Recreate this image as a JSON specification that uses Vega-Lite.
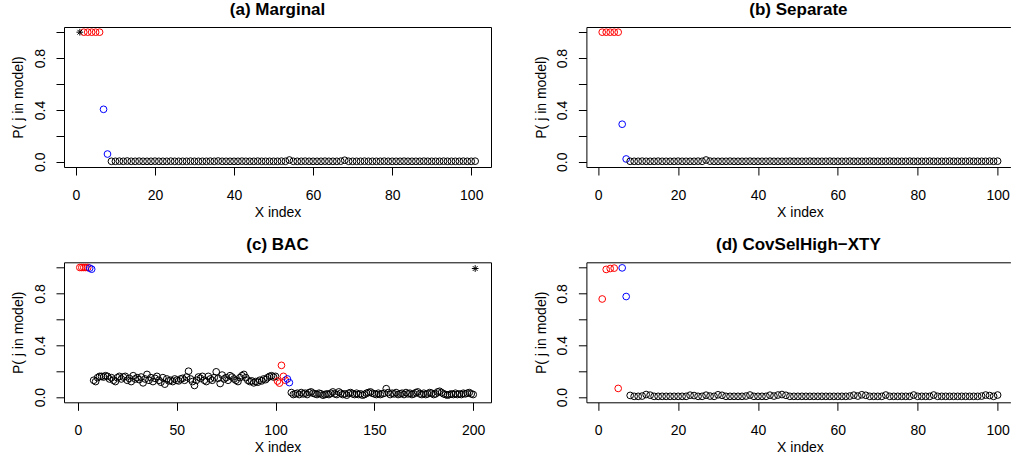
{
"$schema": "https://vega.github.io/schema/vega-lite/v6.json",
"background": "white",
"padding": {"left": 11, "top": 0, "right": 0, "bottom": 0},
"bounds": "flush",
"columns": 2,
"spacing": {"row": 95.3, "column": 95.4},
"config": {
  "font": "Liberation Sans",
  "view": {"stroke": "black", "strokeWidth": 1},
  "axis": {"grid": false, "domain": false, "domainColor": "black", "domainWidth": 1, "tickColor": "black", "tickSize": 8, "tickWidth": 1, "labelColor": "black", "labelFontSize": 14, "labelFont": "Liberation Sans", "titleFont": "Liberation Sans", "titleFontSize": 14, "titleFontWeight": "normal", "titleColor": "black", "labelFlush": false, "labelOverlap": false, "labelBound": false},
  "axisX": {"labelPadding": 24, "labelBaseline": "alphabetic", "labelAlign": "center", "titleBaseline": "alphabetic", "titleAlign": "center", "titleY": 49, "titleX": 213.5},
  "axisY": {"labelPadding": 12, "labelAngle": -90, "labelBaseline": "alphabetic", "labelAlign": "center", "titleAngle": -90, "titleBaseline": "alphabetic", "titleAlign": "center", "titleX": -41.3, "titleY": 70},
  "title": {"fontSize": 17, "fontWeight": "bold", "font": "Liberation Sans", "color": "black", "anchor": "middle", "frame": "group", "baseline": "alphabetic", "offset": 8}
},
"datasets": {"pts": [
{"p":"a","x":1,"y":1,"c":"s"},
{"p":"a","x":2,"y":1,"c":"r"},{"p":"a","x":3,"y":1,"c":"r"},{"p":"a","x":4,"y":1,"c":"r"},{"p":"a","x":5,"y":1,"c":"r"},{"p":"a","x":6,"y":1,"c":"r"},
{"p":"a","x":7,"y":0.405,"c":"b"},{"p":"a","x":8,"y":0.06,"c":"b"},
{"p":"a","x":9,"y":0.004,"c":"k"},{"p":"a","x":10,"y":0.004,"c":"k"},{"p":"a","x":11,"y":0.005,"c":"k"},{"p":"a","x":12,"y":0.004,"c":"k"},{"p":"a","x":13,"y":0.006,"c":"k"},{"p":"a","x":14,"y":0.004,"c":"k"},{"p":"a","x":15,"y":0.004,"c":"k"},{"p":"a","x":16,"y":0.005,"c":"k"},{"p":"a","x":17,"y":0.004,"c":"k"},{"p":"a","x":18,"y":0.004,"c":"k"},{"p":"a","x":19,"y":0.004,"c":"k"},{"p":"a","x":20,"y":0.005,"c":"k"},
{"p":"a","x":21,"y":0.004,"c":"k"},{"p":"a","x":22,"y":0.004,"c":"k"},{"p":"a","x":23,"y":0.004,"c":"k"},{"p":"a","x":24,"y":0.005,"c":"k"},{"p":"a","x":25,"y":0.004,"c":"k"},{"p":"a","x":26,"y":0.004,"c":"k"},{"p":"a","x":27,"y":0.004,"c":"k"},{"p":"a","x":28,"y":0.004,"c":"k"},{"p":"a","x":29,"y":0.005,"c":"k"},{"p":"a","x":30,"y":0.004,"c":"k"},
{"p":"a","x":31,"y":0.004,"c":"k"},{"p":"a","x":32,"y":0.004,"c":"k"},{"p":"a","x":33,"y":0.004,"c":"k"},{"p":"a","x":34,"y":0.005,"c":"k"},{"p":"a","x":35,"y":0.004,"c":"k"},{"p":"a","x":36,"y":0.006,"c":"k"},{"p":"a","x":37,"y":0.004,"c":"k"},{"p":"a","x":38,"y":0.004,"c":"k"},{"p":"a","x":39,"y":0.004,"c":"k"},{"p":"a","x":40,"y":0.004,"c":"k"},
{"p":"a","x":41,"y":0.004,"c":"k"},{"p":"a","x":42,"y":0.005,"c":"k"},{"p":"a","x":43,"y":0.004,"c":"k"},{"p":"a","x":44,"y":0.004,"c":"k"},{"p":"a","x":45,"y":0.004,"c":"k"},{"p":"a","x":46,"y":0.005,"c":"k"},{"p":"a","x":47,"y":0.004,"c":"k"},{"p":"a","x":48,"y":0.004,"c":"k"},{"p":"a","x":49,"y":0.004,"c":"k"},{"p":"a","x":50,"y":0.004,"c":"k"},
{"p":"a","x":51,"y":0.004,"c":"k"},{"p":"a","x":52,"y":0.005,"c":"k"},{"p":"a","x":53,"y":0.004,"c":"k"},{"p":"a","x":54,"y":0.014,"c":"k"},{"p":"a","x":55,"y":0.004,"c":"k"},{"p":"a","x":56,"y":0.004,"c":"k"},{"p":"a","x":57,"y":0.004,"c":"k"},{"p":"a","x":58,"y":0.005,"c":"k"},{"p":"a","x":59,"y":0.004,"c":"k"},{"p":"a","x":60,"y":0.004,"c":"k"},
{"p":"a","x":61,"y":0.004,"c":"k"},{"p":"a","x":62,"y":0.004,"c":"k"},{"p":"a","x":63,"y":0.005,"c":"k"},{"p":"a","x":64,"y":0.004,"c":"k"},{"p":"a","x":65,"y":0.004,"c":"k"},{"p":"a","x":66,"y":0.004,"c":"k"},{"p":"a","x":67,"y":0.005,"c":"k"},{"p":"a","x":68,"y":0.012,"c":"k"},{"p":"a","x":69,"y":0.004,"c":"k"},{"p":"a","x":70,"y":0.004,"c":"k"},
{"p":"a","x":71,"y":0.004,"c":"k"},{"p":"a","x":72,"y":0.004,"c":"k"},{"p":"a","x":73,"y":0.005,"c":"k"},{"p":"a","x":74,"y":0.004,"c":"k"},{"p":"a","x":75,"y":0.004,"c":"k"},{"p":"a","x":76,"y":0.004,"c":"k"},{"p":"a","x":77,"y":0.004,"c":"k"},{"p":"a","x":78,"y":0.005,"c":"k"},{"p":"a","x":79,"y":0.004,"c":"k"},{"p":"a","x":80,"y":0.004,"c":"k"},
{"p":"a","x":81,"y":0.004,"c":"k"},{"p":"a","x":82,"y":0.004,"c":"k"},{"p":"a","x":83,"y":0.005,"c":"k"},{"p":"a","x":84,"y":0.004,"c":"k"},{"p":"a","x":85,"y":0.004,"c":"k"},{"p":"a","x":86,"y":0.004,"c":"k"},{"p":"a","x":87,"y":0.004,"c":"k"},{"p":"a","x":88,"y":0.005,"c":"k"},{"p":"a","x":89,"y":0.004,"c":"k"},{"p":"a","x":90,"y":0.004,"c":"k"},
{"p":"a","x":91,"y":0.004,"c":"k"},{"p":"a","x":92,"y":0.004,"c":"k"},{"p":"a","x":93,"y":0.005,"c":"k"},{"p":"a","x":94,"y":0.004,"c":"k"},{"p":"a","x":95,"y":0.004,"c":"k"},{"p":"a","x":96,"y":0.004,"c":"k"},{"p":"a","x":97,"y":0.004,"c":"k"},{"p":"a","x":98,"y":0.005,"c":"k"},{"p":"a","x":99,"y":0.004,"c":"k"},{"p":"a","x":100,"y":0.004,"c":"k"},{"p":"a","x":101,"y":0.005,"c":"k"},

{"p":"b","x":1,"y":1,"c":"r"},{"p":"b","x":2,"y":1,"c":"r"},{"p":"b","x":3,"y":1,"c":"r"},{"p":"b","x":4,"y":1,"c":"r"},{"p":"b","x":5,"y":1,"c":"r"},
{"p":"b","x":6,"y":0.29,"c":"b"},{"p":"b","x":7,"y":0.022,"c":"b"},
{"p":"b","x":8,"y":0.004,"c":"k"},{"p":"b","x":9,"y":0.004,"c":"k"},{"p":"b","x":10,"y":0.004,"c":"k"},{"p":"b","x":11,"y":0.005,"c":"k"},{"p":"b","x":12,"y":0.004,"c":"k"},{"p":"b","x":13,"y":0.004,"c":"k"},{"p":"b","x":14,"y":0.004,"c":"k"},{"p":"b","x":15,"y":0.005,"c":"k"},{"p":"b","x":16,"y":0.004,"c":"k"},{"p":"b","x":17,"y":0.004,"c":"k"},{"p":"b","x":18,"y":0.004,"c":"k"},{"p":"b","x":19,"y":0.004,"c":"k"},{"p":"b","x":20,"y":0.005,"c":"k"},
{"p":"b","x":21,"y":0.004,"c":"k"},{"p":"b","x":22,"y":0.004,"c":"k"},{"p":"b","x":23,"y":0.004,"c":"k"},{"p":"b","x":24,"y":0.004,"c":"k"},{"p":"b","x":25,"y":0.005,"c":"k"},{"p":"b","x":26,"y":0.004,"c":"k"},{"p":"b","x":27,"y":0.014,"c":"k"},{"p":"b","x":28,"y":0.005,"c":"k"},{"p":"b","x":29,"y":0.004,"c":"k"},{"p":"b","x":30,"y":0.004,"c":"k"},
{"p":"b","x":31,"y":0.004,"c":"k"},{"p":"b","x":32,"y":0.004,"c":"k"},{"p":"b","x":33,"y":0.005,"c":"k"},{"p":"b","x":34,"y":0.004,"c":"k"},{"p":"b","x":35,"y":0.004,"c":"k"},{"p":"b","x":36,"y":0.004,"c":"k"},{"p":"b","x":37,"y":0.004,"c":"k"},{"p":"b","x":38,"y":0.005,"c":"k"},{"p":"b","x":39,"y":0.004,"c":"k"},{"p":"b","x":40,"y":0.004,"c":"k"},
{"p":"b","x":41,"y":0.004,"c":"k"},{"p":"b","x":42,"y":0.004,"c":"k"},{"p":"b","x":43,"y":0.005,"c":"k"},{"p":"b","x":44,"y":0.004,"c":"k"},{"p":"b","x":45,"y":0.004,"c":"k"},{"p":"b","x":46,"y":0.004,"c":"k"},{"p":"b","x":47,"y":0.004,"c":"k"},{"p":"b","x":48,"y":0.005,"c":"k"},{"p":"b","x":49,"y":0.004,"c":"k"},{"p":"b","x":50,"y":0.004,"c":"k"},
{"p":"b","x":51,"y":0.004,"c":"k"},{"p":"b","x":52,"y":0.004,"c":"k"},{"p":"b","x":53,"y":0.005,"c":"k"},{"p":"b","x":54,"y":0.004,"c":"k"},{"p":"b","x":55,"y":0.004,"c":"k"},{"p":"b","x":56,"y":0.004,"c":"k"},{"p":"b","x":57,"y":0.004,"c":"k"},{"p":"b","x":58,"y":0.005,"c":"k"},{"p":"b","x":59,"y":0.004,"c":"k"},{"p":"b","x":60,"y":0.004,"c":"k"},
{"p":"b","x":61,"y":0.004,"c":"k"},{"p":"b","x":62,"y":0.004,"c":"k"},{"p":"b","x":63,"y":0.005,"c":"k"},{"p":"b","x":64,"y":0.004,"c":"k"},{"p":"b","x":65,"y":0.004,"c":"k"},{"p":"b","x":66,"y":0.004,"c":"k"},{"p":"b","x":67,"y":0.004,"c":"k"},{"p":"b","x":68,"y":0.005,"c":"k"},{"p":"b","x":69,"y":0.004,"c":"k"},{"p":"b","x":70,"y":0.004,"c":"k"},
{"p":"b","x":71,"y":0.004,"c":"k"},{"p":"b","x":72,"y":0.004,"c":"k"},{"p":"b","x":73,"y":0.005,"c":"k"},{"p":"b","x":74,"y":0.004,"c":"k"},{"p":"b","x":75,"y":0.004,"c":"k"},{"p":"b","x":76,"y":0.004,"c":"k"},{"p":"b","x":77,"y":0.004,"c":"k"},{"p":"b","x":78,"y":0.005,"c":"k"},{"p":"b","x":79,"y":0.004,"c":"k"},{"p":"b","x":80,"y":0.004,"c":"k"},
{"p":"b","x":81,"y":0.004,"c":"k"},{"p":"b","x":82,"y":0.004,"c":"k"},{"p":"b","x":83,"y":0.005,"c":"k"},{"p":"b","x":84,"y":0.004,"c":"k"},{"p":"b","x":85,"y":0.004,"c":"k"},{"p":"b","x":86,"y":0.004,"c":"k"},{"p":"b","x":87,"y":0.004,"c":"k"},{"p":"b","x":88,"y":0.005,"c":"k"},{"p":"b","x":89,"y":0.004,"c":"k"},{"p":"b","x":90,"y":0.004,"c":"k"},
{"p":"b","x":91,"y":0.004,"c":"k"},{"p":"b","x":92,"y":0.004,"c":"k"},{"p":"b","x":93,"y":0.005,"c":"k"},{"p":"b","x":94,"y":0.004,"c":"k"},{"p":"b","x":95,"y":0.004,"c":"k"},{"p":"b","x":96,"y":0.004,"c":"k"},{"p":"b","x":97,"y":0.004,"c":"k"},{"p":"b","x":98,"y":0.005,"c":"k"},{"p":"b","x":99,"y":0.004,"c":"k"},{"p":"b","x":100,"y":0.005,"c":"k"},

{"p":"c","x":1,"y":1,"c":"r"},{"p":"c","x":2,"y":1,"c":"r"},{"p":"c","x":3,"y":1,"c":"r"},{"p":"c","x":4,"y":1,"c":"r"},{"p":"c","x":5,"y":1,"c":"r"},
{"p":"c","x":6,"y":0.995,"c":"b"},{"p":"c","x":7,"y":0.987,"c":"b"},
{"p":"c","x":8,"y":0.13,"c":"k"},{"p":"c","x":9,"y":0.12,"c":"k"},{"p":"c","x":10,"y":0.15,"c":"k"},{"p":"c","x":11,"y":0.16,"c":"k"},{"p":"c","x":12,"y":0.16,"c":"k"},{"p":"c","x":13,"y":0.155,"c":"k"},{"p":"c","x":14,"y":0.165,"c":"k"},{"p":"c","x":15,"y":0.16,"c":"k"},{"p":"c","x":16,"y":0.14,"c":"k"},{"p":"c","x":17,"y":0.15,"c":"k"},{"p":"c","x":18,"y":0.13,"c":"k"},{"p":"c","x":19,"y":0.12,"c":"k"},{"p":"c","x":20,"y":0.15,"c":"k"},
{"p":"c","x":21,"y":0.16,"c":"k"},{"p":"c","x":22,"y":0.14,"c":"k"},{"p":"c","x":23,"y":0.155,"c":"k"},{"p":"c","x":24,"y":0.16,"c":"k"},{"p":"c","x":25,"y":0.13,"c":"k"},{"p":"c","x":26,"y":0.145,"c":"k"},{"p":"c","x":27,"y":0.12,"c":"k"},{"p":"c","x":28,"y":0.165,"c":"k"},{"p":"c","x":29,"y":0.14,"c":"k"},{"p":"c","x":30,"y":0.15,"c":"k"},
{"p":"c","x":31,"y":0.135,"c":"k"},{"p":"c","x":32,"y":0.155,"c":"k"},{"p":"c","x":33,"y":0.11,"c":"k"},{"p":"c","x":34,"y":0.14,"c":"k"},{"p":"c","x":35,"y":0.175,"c":"k"},{"p":"c","x":36,"y":0.13,"c":"k"},{"p":"c","x":37,"y":0.15,"c":"k"},{"p":"c","x":38,"y":0.12,"c":"k"},{"p":"c","x":39,"y":0.145,"c":"k"},{"p":"c","x":40,"y":0.16,"c":"k"},
{"p":"c","x":41,"y":0.13,"c":"k"},{"p":"c","x":42,"y":0.115,"c":"k"},{"p":"c","x":43,"y":0.15,"c":"k"},{"p":"c","x":44,"y":0.1,"c":"k"},{"p":"c","x":45,"y":0.14,"c":"k"},{"p":"c","x":46,"y":0.125,"c":"k"},{"p":"c","x":47,"y":0.13,"c":"k"},{"p":"c","x":48,"y":0.12,"c":"k"},{"p":"c","x":49,"y":0.14,"c":"k"},{"p":"c","x":50,"y":0.13,"c":"k"},
{"p":"c","x":51,"y":0.125,"c":"k"},{"p":"c","x":52,"y":0.14,"c":"k"},{"p":"c","x":53,"y":0.145,"c":"k"},{"p":"c","x":54,"y":0.13,"c":"k"},{"p":"c","x":55,"y":0.155,"c":"k"},{"p":"c","x":56,"y":0.2,"c":"k"},{"p":"c","x":57,"y":0.14,"c":"k"},{"p":"c","x":58,"y":0.12,"c":"k"},{"p":"c","x":59,"y":0.09,"c":"k"},{"p":"c","x":60,"y":0.13,"c":"k"},
{"p":"c","x":61,"y":0.155,"c":"k"},{"p":"c","x":62,"y":0.145,"c":"k"},{"p":"c","x":63,"y":0.16,"c":"k"},{"p":"c","x":64,"y":0.13,"c":"k"},{"p":"c","x":65,"y":0.12,"c":"k"},{"p":"c","x":66,"y":0.16,"c":"k"},{"p":"c","x":67,"y":0.14,"c":"k"},{"p":"c","x":68,"y":0.13,"c":"k"},{"p":"c","x":69,"y":0.15,"c":"k"},{"p":"c","x":70,"y":0.195,"c":"k"},
{"p":"c","x":71,"y":0.145,"c":"k"},{"p":"c","x":72,"y":0.105,"c":"k"},{"p":"c","x":73,"y":0.17,"c":"k"},{"p":"c","x":74,"y":0.14,"c":"k"},{"p":"c","x":75,"y":0.15,"c":"k"},{"p":"c","x":76,"y":0.13,"c":"k"},{"p":"c","x":77,"y":0.165,"c":"k"},{"p":"c","x":78,"y":0.155,"c":"k"},{"p":"c","x":79,"y":0.14,"c":"k"},{"p":"c","x":80,"y":0.13,"c":"k"},
{"p":"c","x":81,"y":0.12,"c":"k"},{"p":"c","x":82,"y":0.15,"c":"k"},{"p":"c","x":83,"y":0.165,"c":"k"},{"p":"c","x":84,"y":0.175,"c":"k"},{"p":"c","x":85,"y":0.15,"c":"k"},{"p":"c","x":86,"y":0.13,"c":"k"},{"p":"c","x":87,"y":0.12,"c":"k"},{"p":"c","x":88,"y":0.125,"c":"k"},{"p":"c","x":89,"y":0.11,"c":"k"},{"p":"c","x":90,"y":0.12,"c":"k"},
{"p":"c","x":91,"y":0.115,"c":"k"},{"p":"c","x":92,"y":0.13,"c":"k"},{"p":"c","x":93,"y":0.125,"c":"k"},{"p":"c","x":94,"y":0.14,"c":"k"},{"p":"c","x":95,"y":0.135,"c":"k"},{"p":"c","x":96,"y":0.15,"c":"k"},{"p":"c","x":97,"y":0.16,"c":"k"},{"p":"c","x":98,"y":0.165,"c":"k"},{"p":"c","x":99,"y":0.155,"c":"k"},{"p":"c","x":100,"y":0.16,"c":"k"},
{"p":"c","x":101,"y":0.124,"c":"r"},{"p":"c","x":102,"y":0.108,"c":"r"},{"p":"c","x":103,"y":0.245,"c":"r"},{"p":"c","x":104,"y":0.16,"c":"r"},{"p":"c","x":105,"y":0.13,"c":"r"},
{"p":"c","x":106,"y":0.14,"c":"b"},{"p":"c","x":107,"y":0.112,"c":"b"},
{"p":"c","x":108,"y":0.035,"c":"k"},{"p":"c","x":109,"y":0.02,"c":"k"},{"p":"c","x":110,"y":0.025,"c":"k"},
{"p":"c","x":111,"y":0.03,"c":"k"},{"p":"c","x":112,"y":0.02,"c":"k"},{"p":"c","x":113,"y":0.035,"c":"k"},{"p":"c","x":114,"y":0.025,"c":"k"},{"p":"c","x":115,"y":0.03,"c":"k"},{"p":"c","x":116,"y":0.02,"c":"k"},{"p":"c","x":117,"y":0.035,"c":"k"},{"p":"c","x":118,"y":0.04,"c":"k"},{"p":"c","x":119,"y":0.03,"c":"k"},{"p":"c","x":120,"y":0.025,"c":"k"},
{"p":"c","x":121,"y":0.02,"c":"k"},{"p":"c","x":122,"y":0.03,"c":"k"},{"p":"c","x":123,"y":0.025,"c":"k"},{"p":"c","x":124,"y":0.015,"c":"k"},{"p":"c","x":125,"y":0.02,"c":"k"},{"p":"c","x":126,"y":0.025,"c":"k"},{"p":"c","x":127,"y":0.02,"c":"k"},{"p":"c","x":128,"y":0.03,"c":"k"},{"p":"c","x":129,"y":0.04,"c":"k"},{"p":"c","x":130,"y":0.025,"c":"k"},
{"p":"c","x":131,"y":0.02,"c":"k"},{"p":"c","x":132,"y":0.04,"c":"k"},{"p":"c","x":133,"y":0.03,"c":"k"},{"p":"c","x":134,"y":0.02,"c":"k"},{"p":"c","x":135,"y":0.025,"c":"k"},{"p":"c","x":136,"y":0.015,"c":"k"},{"p":"c","x":137,"y":0.03,"c":"k"},{"p":"c","x":138,"y":0.035,"c":"k"},{"p":"c","x":139,"y":0.025,"c":"k"},{"p":"c","x":140,"y":0.02,"c":"k"},
{"p":"c","x":141,"y":0.03,"c":"k"},{"p":"c","x":142,"y":0.02,"c":"k"},{"p":"c","x":143,"y":0.025,"c":"k"},{"p":"c","x":144,"y":0.015,"c":"k"},{"p":"c","x":145,"y":0.02,"c":"k"},{"p":"c","x":146,"y":0.03,"c":"k"},{"p":"c","x":147,"y":0.035,"c":"k"},{"p":"c","x":148,"y":0.04,"c":"k"},{"p":"c","x":149,"y":0.03,"c":"k"},{"p":"c","x":150,"y":0.025,"c":"k"},
{"p":"c","x":151,"y":0.02,"c":"k"},{"p":"c","x":152,"y":0.03,"c":"k"},{"p":"c","x":153,"y":0.02,"c":"k"},{"p":"c","x":154,"y":0.025,"c":"k"},{"p":"c","x":155,"y":0.03,"c":"k"},{"p":"c","x":156,"y":0.065,"c":"k"},{"p":"c","x":157,"y":0.035,"c":"k"},{"p":"c","x":158,"y":0.02,"c":"k"},{"p":"c","x":159,"y":0.03,"c":"k"},{"p":"c","x":160,"y":0.025,"c":"k"},
{"p":"c","x":161,"y":0.035,"c":"k"},{"p":"c","x":162,"y":0.02,"c":"k"},{"p":"c","x":163,"y":0.025,"c":"k"},{"p":"c","x":164,"y":0.03,"c":"k"},{"p":"c","x":165,"y":0.02,"c":"k"},{"p":"c","x":166,"y":0.035,"c":"k"},{"p":"c","x":167,"y":0.025,"c":"k"},{"p":"c","x":168,"y":0.03,"c":"k"},{"p":"c","x":169,"y":0.02,"c":"k"},{"p":"c","x":170,"y":0.025,"c":"k"},
{"p":"c","x":171,"y":0.035,"c":"k"},{"p":"c","x":172,"y":0.04,"c":"k"},{"p":"c","x":173,"y":0.025,"c":"k"},{"p":"c","x":174,"y":0.02,"c":"k"},{"p":"c","x":175,"y":0.03,"c":"k"},{"p":"c","x":176,"y":0.02,"c":"k"},{"p":"c","x":177,"y":0.025,"c":"k"},{"p":"c","x":178,"y":0.035,"c":"k"},{"p":"c","x":179,"y":0.03,"c":"k"},{"p":"c","x":180,"y":0.02,"c":"k"},
{"p":"c","x":181,"y":0.025,"c":"k"},{"p":"c","x":182,"y":0.04,"c":"k"},{"p":"c","x":183,"y":0.045,"c":"k"},{"p":"c","x":184,"y":0.035,"c":"k"},{"p":"c","x":185,"y":0.025,"c":"k"},{"p":"c","x":186,"y":0.02,"c":"k"},{"p":"c","x":187,"y":0.015,"c":"k"},{"p":"c","x":188,"y":0.02,"c":"k"},{"p":"c","x":189,"y":0.025,"c":"k"},{"p":"c","x":190,"y":0.02,"c":"k"},
{"p":"c","x":191,"y":0.03,"c":"k"},{"p":"c","x":192,"y":0.02,"c":"k"},{"p":"c","x":193,"y":0.025,"c":"k"},{"p":"c","x":194,"y":0.02,"c":"k"},{"p":"c","x":195,"y":0.03,"c":"k"},{"p":"c","x":196,"y":0.025,"c":"k"},{"p":"c","x":197,"y":0.03,"c":"k"},{"p":"c","x":198,"y":0.035,"c":"k"},{"p":"c","x":199,"y":0.025,"c":"k"},{"p":"c","x":200,"y":0.02,"c":"k"},
{"p":"c","x":201,"y":0.992,"c":"s"},

{"p":"d","x":1,"y":0.757,"c":"r"},{"p":"d","x":2,"y":0.985,"c":"r"},{"p":"d","x":3,"y":0.992,"c":"r"},{"p":"d","x":4,"y":0.995,"c":"r"},{"p":"d","x":5,"y":0.067,"c":"r"},
{"p":"d","x":6,"y":0.997,"c":"b"},{"p":"d","x":7,"y":0.776,"c":"b"},
{"p":"d","x":8,"y":0.013,"c":"k"},{"p":"d","x":9,"y":0.006,"c":"k"},{"p":"d","x":10,"y":0.006,"c":"k"},{"p":"d","x":11,"y":0.008,"c":"k"},{"p":"d","x":12,"y":0.02,"c":"k"},{"p":"d","x":13,"y":0.015,"c":"k"},{"p":"d","x":14,"y":0.006,"c":"k"},{"p":"d","x":15,"y":0.006,"c":"k"},{"p":"d","x":16,"y":0.006,"c":"k"},{"p":"d","x":17,"y":0.006,"c":"k"},{"p":"d","x":18,"y":0.006,"c":"k"},{"p":"d","x":19,"y":0.006,"c":"k"},{"p":"d","x":20,"y":0.006,"c":"k"},
{"p":"d","x":21,"y":0.006,"c":"k"},{"p":"d","x":22,"y":0.006,"c":"k"},{"p":"d","x":23,"y":0.015,"c":"k"},{"p":"d","x":24,"y":0.012,"c":"k"},{"p":"d","x":25,"y":0.006,"c":"k"},{"p":"d","x":26,"y":0.006,"c":"k"},{"p":"d","x":27,"y":0.015,"c":"k"},{"p":"d","x":28,"y":0.008,"c":"k"},{"p":"d","x":29,"y":0.006,"c":"k"},{"p":"d","x":30,"y":0.018,"c":"k"},
{"p":"d","x":31,"y":0.014,"c":"k"},{"p":"d","x":32,"y":0.006,"c":"k"},{"p":"d","x":33,"y":0.006,"c":"k"},{"p":"d","x":34,"y":0.006,"c":"k"},{"p":"d","x":35,"y":0.006,"c":"k"},{"p":"d","x":36,"y":0.006,"c":"k"},{"p":"d","x":37,"y":0.008,"c":"k"},{"p":"d","x":38,"y":0.016,"c":"k"},{"p":"d","x":39,"y":0.006,"c":"k"},{"p":"d","x":40,"y":0.006,"c":"k"},
{"p":"d","x":41,"y":0.006,"c":"k"},{"p":"d","x":42,"y":0.006,"c":"k"},{"p":"d","x":43,"y":0.015,"c":"k"},{"p":"d","x":44,"y":0.008,"c":"k"},{"p":"d","x":45,"y":0.016,"c":"k"},{"p":"d","x":46,"y":0.02,"c":"k"},{"p":"d","x":47,"y":0.014,"c":"k"},{"p":"d","x":48,"y":0.006,"c":"k"},{"p":"d","x":49,"y":0.006,"c":"k"},{"p":"d","x":50,"y":0.006,"c":"k"},
{"p":"d","x":51,"y":0.006,"c":"k"},{"p":"d","x":52,"y":0.006,"c":"k"},{"p":"d","x":53,"y":0.006,"c":"k"},{"p":"d","x":54,"y":0.006,"c":"k"},{"p":"d","x":55,"y":0.006,"c":"k"},{"p":"d","x":56,"y":0.006,"c":"k"},{"p":"d","x":57,"y":0.006,"c":"k"},{"p":"d","x":58,"y":0.006,"c":"k"},{"p":"d","x":59,"y":0.006,"c":"k"},{"p":"d","x":60,"y":0.006,"c":"k"},
{"p":"d","x":61,"y":0.006,"c":"k"},{"p":"d","x":62,"y":0.006,"c":"k"},{"p":"d","x":63,"y":0.008,"c":"k"},{"p":"d","x":64,"y":0.015,"c":"k"},{"p":"d","x":65,"y":0.008,"c":"k"},{"p":"d","x":66,"y":0.018,"c":"k"},{"p":"d","x":67,"y":0.014,"c":"k"},{"p":"d","x":68,"y":0.006,"c":"k"},{"p":"d","x":69,"y":0.006,"c":"k"},{"p":"d","x":70,"y":0.006,"c":"k"},
{"p":"d","x":71,"y":0.006,"c":"k"},{"p":"d","x":72,"y":0.016,"c":"k"},{"p":"d","x":73,"y":0.006,"c":"k"},{"p":"d","x":74,"y":0.006,"c":"k"},{"p":"d","x":75,"y":0.006,"c":"k"},{"p":"d","x":76,"y":0.006,"c":"k"},{"p":"d","x":77,"y":0.006,"c":"k"},{"p":"d","x":78,"y":0.006,"c":"k"},{"p":"d","x":79,"y":0.016,"c":"k"},{"p":"d","x":80,"y":0.006,"c":"k"},
{"p":"d","x":81,"y":0.006,"c":"k"},{"p":"d","x":82,"y":0.006,"c":"k"},{"p":"d","x":83,"y":0.006,"c":"k"},{"p":"d","x":84,"y":0.016,"c":"k"},{"p":"d","x":85,"y":0.006,"c":"k"},{"p":"d","x":86,"y":0.006,"c":"k"},{"p":"d","x":87,"y":0.006,"c":"k"},{"p":"d","x":88,"y":0.006,"c":"k"},{"p":"d","x":89,"y":0.006,"c":"k"},{"p":"d","x":90,"y":0.006,"c":"k"},
{"p":"d","x":91,"y":0.006,"c":"k"},{"p":"d","x":92,"y":0.006,"c":"k"},{"p":"d","x":93,"y":0.006,"c":"k"},{"p":"d","x":94,"y":0.006,"c":"k"},{"p":"d","x":95,"y":0.006,"c":"k"},{"p":"d","x":96,"y":0.008,"c":"k"},{"p":"d","x":97,"y":0.016,"c":"k"},{"p":"d","x":98,"y":0.012,"c":"k"},{"p":"d","x":99,"y":0.006,"c":"k"},{"p":"d","x":100,"y":0.016,"c":"k"}
]},
"concat": [
 {"width": 427, "height": 140, "title": "(a) Marginal", "data": {"name": "pts"}, "transform": [{"filter": "datum.p == 'a'"}],
  "encoding": {
   "x": {"field": "x", "type": "quantitative", "scale": {"domain": [-3, 105], "nice": false, "zero": false}, "axis": {"values": [0,20,40,60,80,100], "title": "X index"}},
   "y": {"field": "y", "type": "quantitative", "scale": {"domain": [-0.04, 1.04], "nice": false, "zero": false}, "axis": {"values": [0,0.2,0.4,0.6,0.8,1], "labelExpr": "(datum.value < 0.1 || (datum.value > 0.3 && datum.value < 0.5) || (datum.value > 0.7 && datum.value < 0.9)) ? format(datum.value, '.1f') : ''", "title": "P( j in model)"}}
  },
  "layer": [
   {"transform": [{"filter": "datum.c != 's'"}], "mark": {"type": "point", "shape": "circle", "filled": false, "size": 45, "strokeWidth": 1, "opacity": 1},
    "encoding": {"color": {"field": "c", "type": "nominal", "scale": {"domain": ["k","r","b"], "range": ["#000000","#FF0000","#0000FF"]}, "legend": null}}},
   {"transform": [{"filter": "datum.c == 's'"}], "mark": {"type": "point", "shape": "M-1,0L1,0M0,-1L0,1M-0.707,-0.707L0.707,0.707M-0.707,0.707L0.707,-0.707", "filled": false, "size": 45, "strokeWidth": 1, "color": "#000000", "opacity": 1}}
  ]},
 {"width": 424, "height": 140, "title": "(b) Separate", "view": {"stroke": null}, "data": {"name": "pts"}, "transform": [{"filter": "datum.p == 'b'"}],
  "encoding": {
   "y": {"field": "y", "type": "quantitative", "scale": {"domain": [-0.04, 1.04], "nice": false, "zero": false}, "axis": {"values": [0,0.2,0.4,0.6,0.8,1], "domain": true, "labelExpr": "(datum.value < 0.1 || (datum.value > 0.3 && datum.value < 0.5) || (datum.value > 0.7 && datum.value < 0.9)) ? format(datum.value, '.1f') : ''", "title": "P( j in model)"}}
  },
  "layer": [
   {"transform": [{"filter": "datum.c != 's'"}], "mark": {"type": "point", "shape": "circle", "filled": false, "size": 45, "strokeWidth": 1, "opacity": 1},
    "encoding": {
     "x": {"field": "x", "type": "quantitative", "scale": {"domain": [-2.96, 103.2], "nice": false, "zero": false}, "axis": {"values": [0,20,40,60,80,100], "domain": true, "title": "X index"}},
     "color": {"field": "c", "type": "nominal", "scale": {"domain": ["k","r","b"], "range": ["#000000","#FF0000","#0000FF"]}, "legend": null}}},
   {"mark": {"type": "point", "opacity": 0},
    "encoding": {
     "x": {"field": "x", "type": "quantitative", "scale": {"domain": [-2.96, 103.2], "nice": false, "zero": false}, "axis": {"orient": "top", "domain": true, "ticks": false, "labels": false, "title": null}}}}
  ],
  "resolve": {"axis": {"x": "independent"}}},
 {"width": 427, "height": 140, "title": "(c) BAC", "data": {"name": "pts"}, "transform": [{"filter": "datum.p == 'c'"}],
  "encoding": {
   "x": {"field": "x", "type": "quantitative", "scale": {"domain": [-7, 209], "nice": false, "zero": false}, "axis": {"values": [0,50,100,150,200], "title": "X index"}},
   "y": {"field": "y", "type": "quantitative", "scale": {"domain": [-0.04, 1.04], "nice": false, "zero": false}, "axis": {"values": [0,0.2,0.4,0.6,0.8,1], "labelExpr": "(datum.value < 0.1 || (datum.value > 0.3 && datum.value < 0.5) || (datum.value > 0.7 && datum.value < 0.9)) ? format(datum.value, '.1f') : ''", "title": "P( j in model)"}}
  },
  "layer": [
   {"transform": [{"filter": "datum.c != 's'"}], "mark": {"type": "point", "shape": "circle", "filled": false, "size": 45, "strokeWidth": 1, "opacity": 1},
    "encoding": {"color": {"field": "c", "type": "nominal", "scale": {"domain": ["k","r","b"], "range": ["#000000","#FF0000","#0000FF"]}, "legend": null}}},
   {"transform": [{"filter": "datum.c == 's'"}], "mark": {"type": "point", "shape": "M-1,0L1,0M0,-1L0,1M-0.707,-0.707L0.707,0.707M-0.707,0.707L0.707,-0.707", "filled": false, "size": 45, "strokeWidth": 1, "color": "#000000", "opacity": 1}}
  ]},
 {"width": 424, "height": 140, "title": "(d) CovSelHigh\u2212XTY", "view": {"stroke": null}, "data": {"name": "pts"}, "transform": [{"filter": "datum.p == 'd'"}],
  "encoding": {
   "y": {"field": "y", "type": "quantitative", "scale": {"domain": [-0.04, 1.04], "nice": false, "zero": false}, "axis": {"values": [0,0.2,0.4,0.6,0.8,1], "domain": true, "labelExpr": "(datum.value < 0.1 || (datum.value > 0.3 && datum.value < 0.5) || (datum.value > 0.7 && datum.value < 0.9)) ? format(datum.value, '.1f') : ''", "title": "P( j in model)"}}
  },
  "layer": [
   {"transform": [{"filter": "datum.c != 's'"}], "mark": {"type": "point", "shape": "circle", "filled": false, "size": 45, "strokeWidth": 1, "opacity": 1},
    "encoding": {
     "x": {"field": "x", "type": "quantitative", "scale": {"domain": [-2.96, 103.2], "nice": false, "zero": false}, "axis": {"values": [0,20,40,60,80,100], "domain": true, "title": "X index"}},
     "color": {"field": "c", "type": "nominal", "scale": {"domain": ["k","r","b"], "range": ["#000000","#FF0000","#0000FF"]}, "legend": null}}},
   {"mark": {"type": "point", "opacity": 0},
    "encoding": {
     "x": {"field": "x", "type": "quantitative", "scale": {"domain": [-2.96, 103.2], "nice": false, "zero": false}, "axis": {"orient": "top", "domain": true, "ticks": false, "labels": false, "title": null}}}}
  ],
  "resolve": {"axis": {"x": "independent"}}}
]
}
